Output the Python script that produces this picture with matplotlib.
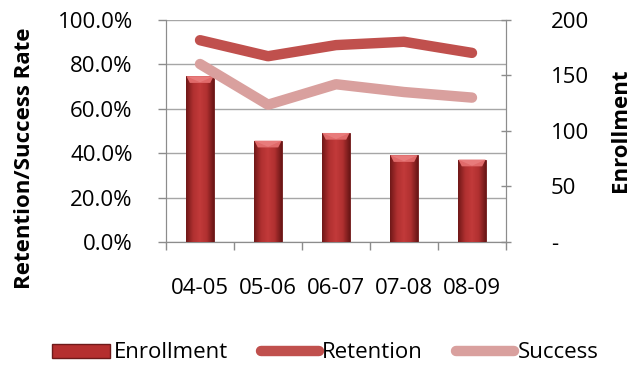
import numpy as np
import matplotlib
matplotlib.use("Agg")
from matplotlib import pyplot as plt
from matplotlib.colors import LinearSegmentedColormap
from matplotlib.patches import Polygon
from matplotlib.lines import Line2D
from matplotlib.ticker import FuncFormatter, FixedLocator

years = ["04-05", "05-06", "06-07", "07-08", "08-09"]
enrollment = [149, 91, 98, 78, 74]
retention = [0.907, 0.835, 0.885, 0.900, 0.850]
success = [0.800, 0.617, 0.709, 0.674, 0.649]

plt.rcParams['font.family'] = ['Open Sans', 'DejaVu Sans']

ret_color = '#c0504d'
suc_color = '#d9a09e'
axis_gray = '#8c8c8c'

fig = plt.figure(figsize=(6.32, 3.66), dpi=100)
ax = fig.add_axes([0.2627, 0.3388, 0.5379, 0.6079])
ax2 = ax.twinx()
ax3 = ax.twinx()

x = np.arange(len(years))

# percent axis (left) with the gridlines
ax.set_xlim(-0.5, len(years) - 0.5)
ax.set_ylim(0, 1)
ax.set_yticks(np.linspace(0, 1, 6))
ax.yaxis.set_major_formatter(FuncFormatter(lambda v, p: f"{v * 100:.1f}%"))
ax.grid(axis='y', color='#a6a6a6', linewidth=1)
ax.set_axisbelow(True)
ax.set_xticks(x)
ax.set_xticklabels(years)
ax.xaxis.set_minor_locator(FixedLocator(np.arange(-0.5, len(years), 1)))
ax.tick_params(axis='x', which='major', length=0, pad=26, labelsize=16)
ax.tick_params(axis='x', which='minor', length=6, color=axis_gray, width=1)
ax.tick_params(axis='y', length=6, color=axis_gray, width=1, pad=18, labelsize=16)
for side in ['left', 'bottom', 'right']:
    ax.spines[side].set_color(axis_gray)
ax.spines['top'].set_visible(False)

# enrollment bars (right axis)
ax2.set_ylim(0, 200)
ax2.set_yticks([0, 50, 100, 150, 200])
ax2.yaxis.set_major_formatter(FuncFormatter(lambda v, p: '-' if v == 0 else f"{v:.0f}"))
ax2.tick_params(axis='y', length=7, direction='inout', color=axis_gray, width=1, pad=29, labelsize=16)
for side in ['left', 'bottom', 'right']:
    ax2.spines[side].set_color(axis_gray)
ax2.spines['top'].set_visible(False)

bw = 0.4
bars = ax2.bar(x, enrollment, width=bw, color='#b52f2f', edgecolor='#6e1a1a', linewidth=0.6, zorder=2)
shade = LinearSegmentedColormap.from_list('shade', ['#701818', '#b03030', '#c23a3a', '#b03030', '#6a1616'])
grad = np.linspace(0, 1, 64).reshape(1, -1)
for rect, val in zip(bars, enrollment):
    x0 = rect.get_x()
    x1 = x0 + rect.get_width()
    # soft shadow to the right of each bar
    ax2.add_patch(plt.Rectangle((x0 + 0.02, 0), rect.get_width(), val - 1, facecolor='#999999',
                                edgecolor='none', alpha=0.35, zorder=1))
    im = ax2.imshow(grad, cmap=shade, extent=(x0, x1, 0, val), aspect='auto', zorder=3)
    im.set_clip_path(rect)
    # bevel on the top face
    d = 6
    ax2.add_patch(Polygon([(x0, val), (x1, val), (x1 - 0.05, val - d), (x0 + 0.05, val - d)],
                          closed=True, facecolor='#e06a6a', edgecolor='none', zorder=4))
    ax2.add_patch(Polygon([(x0, val), (x1, val), ((x0 + x1) / 2, val - d * 0.9)],
                          closed=True, facecolor='#ee8888', edgecolor='none', alpha=0.6, zorder=4))
ax2.set_xlim(-0.5, len(years) - 0.5)
ax2.set_ylim(0, 200)

# retention / success lines on top
ax3.set_ylim(0, 1)
ax3.set_axis_off()
ax3.plot(x, retention, color=ret_color, linewidth=7.5, solid_capstyle='round', solid_joinstyle='round')
ax3.plot(x, success, color=suc_color, linewidth=7.5, solid_capstyle='round', solid_joinstyle='round')
ax3.set_xlim(-0.5, len(years) - 0.5)

fig.text(25 / 632, 1 - 158 / 366, 'Retention/Success Rate', rotation=90, ha='center', va='center',
         fontsize=16, fontweight='bold')
fig.text(620 / 632, 1 - 130 / 366, 'Enrollment', rotation=90, ha='center', va='center',
         fontsize=16, fontweight='bold')

handles = [
    plt.Rectangle((0, 0), 1, 1, facecolor='#b52f2f', edgecolor='#6e1a1a'),
    Line2D([], [], color=ret_color, linewidth=7.5, solid_capstyle='round'),
    Line2D([], [], color=suc_color, linewidth=7.5, solid_capstyle='round'),
]
fig.legend(handles, ['Enrollment', 'Retention', 'Success'], loc='center', bbox_to_anchor=(0.515, 1 - 353 / 366),
           ncol=3, frameon=False, fontsize=16, handlelength=2.6, handleheight=0.6, handletextpad=0.15,
           columnspacing=1.5)

fig.savefig('out.png', dpi=100)
